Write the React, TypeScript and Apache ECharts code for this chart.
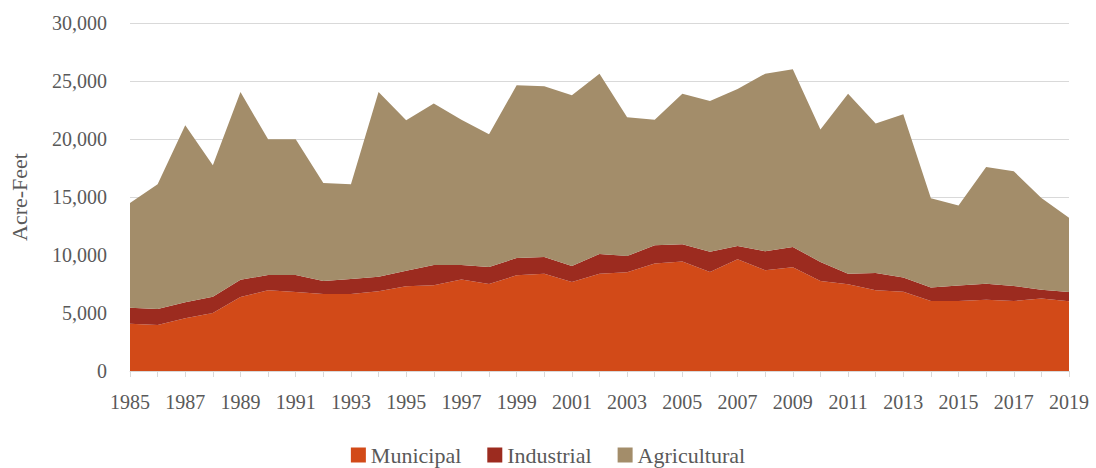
import React, { useEffect, useRef } from "react";
import * as echarts from "echarts";

const years = [
  "1985","1986","1987","1988","1989","1990","1991","1992","1993","1994",
  "1995","1996","1997","1998","1999","2000","2001","2002","2003","2004",
  "2005","2006","2007","2008","2009","2010","2011","2012","2013","2014",
  "2015","2016","2017","2018","2019",
];

const municipal = [
  4080, 3970, 4540, 5000, 6380, 6960, 6810, 6640, 6640, 6870,
  7300, 7390, 7880, 7500, 8250, 8390, 7670, 8390, 8510, 9260,
  9430, 8530, 9630, 8680, 8940, 7760, 7470, 6960, 6840, 6030,
  6030, 6150, 6030, 6240, 6010,
];

const industrial = [
  1380, 1380, 1380, 1410, 1490, 1320, 1470, 1120, 1290, 1260,
  1350, 1750, 1260, 1470, 1490, 1440, 1380, 1700, 1400, 1580,
  1490, 1760, 1150, 1640, 1750, 1640, 920, 1490, 1210, 1160,
  1330, 1380, 1300, 770, 800,
];

const agricultural = [
  9020, 10740, 15260, 11320, 16180, 11690, 11690, 8450, 8160, 15920,
  12960, 13910, 12530, 11430, 14890, 14710, 14720, 15540, 11960, 10830,
  12990, 12990, 13530, 15310, 15320, 11410, 15520, 12880, 14080, 7700,
  6900, 10060, 9890, 7900, 6410,
];

const seriesNames = ["Municipal", "Industrial", "Agricultural"];
const colors = ["#D24A18", "#9C2B1F", "#A38D6A"];

const FONT = "'Liberation Serif', 'DejaVu Serif', serif";
const TEXT = "#595959";

export default function App() {
  const ref = useRef<HTMLDivElement>(null);

  useEffect(() => {
    if (!ref.current) return;
    const chart = echarts.init(ref.current, undefined, { renderer: "svg" });
    const data = [municipal, industrial, agricultural];
    chart.setOption({
      animation: false,
      color: colors,
      textStyle: { fontFamily: FONT, color: TEXT },
      grid: {
        left: 130,
        right: 27,
        top: 23,
        bottom: 97,
        containLabel: false,
        outerBoundsMode: "none",
      },
      legend: {
        data: seriesNames,
        top: 444,
        left: "center",
        icon: "rect",
        itemWidth: 15,
        itemHeight: 15,
        itemGap: 26,
        padding: 0,
        textStyle: { fontFamily: FONT, fontSize: 22, lineHeight: 22, color: TEXT },
      },
      xAxis: {
        type: "category",
        data: years,
        boundaryGap: false,
        axisLine: { lineStyle: { color: "#D9D9D9", width: 1 } },
        axisTick: { show: true, alignWithLabel: true, interval: 0, length: 6, lineStyle: { color: "#D9D9D9" } },
        axisLabel: { interval: 1, fontSize: 20, color: TEXT, fontFamily: FONT, margin: 21 },
        splitLine: { show: false },
      },
      yAxis: {
        type: "value",
        min: 0,
        max: 30000,
        interval: 5000,
        name: "Acre-Feet",
        nameLocation: "middle",
        nameGap: 100,
        nameRotate: 90,
        nameTextStyle: { fontSize: 22, color: TEXT, fontFamily: FONT },
        axisLine: { show: false },
        axisTick: { show: false },
        axisLabel: {
          fontSize: 20,
          color: TEXT,
          fontFamily: FONT,
          margin: 23,
          formatter: (v: number) => v.toLocaleString("en-US"),
        },
        splitLine: { lineStyle: { color: "#D9D9D9", width: 1 } },
      },
      series: seriesNames.map((name, i) => ({
        name,
        type: "line",
        stack: "total",
        data: data[i],
        symbol: "none",
        lineStyle: { width: 0 },
        areaStyle: { color: colors[i], opacity: 1 },
        itemStyle: { color: colors[i] },
      })),
    });
    return () => chart.dispose();
  }, []);

  return (
    <div
      ref={ref}
      style={{ position: "absolute", left: 0, top: 0, width: 1096, height: 468 }}
    />
  );
}
